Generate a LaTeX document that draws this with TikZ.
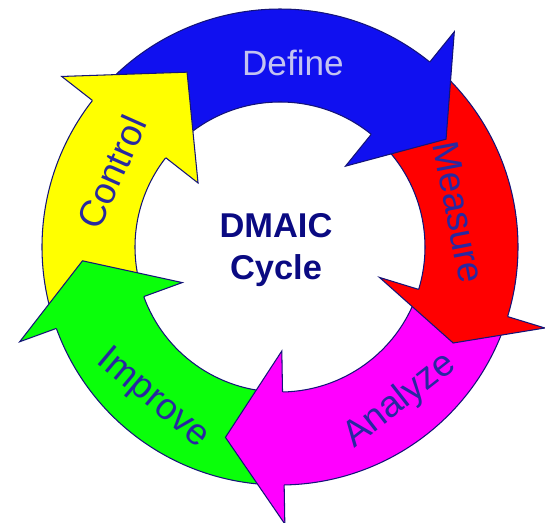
\documentclass[tikz,border=0pt]{standalone}
\usepackage{fontspec}
\setmainfont{Liberation Sans}

\definecolor{defineblue}{RGB}{16,16,240}
\definecolor{measurered}{RGB}{255,0,0}
\definecolor{analyzemag}{RGB}{255,0,255}
\definecolor{improvegreen}{RGB}{10,255,10}
\definecolor{controlyellow}{RGB}{255,255,0}
\definecolor{rimnavy}{RGB}{20,20,120}
\definecolor{labelnavy}{RGB}{40,40,160}
\definecolor{titlenavy}{RGB}{10,10,130}
\definecolor{lavender}{RGB}{195,195,240}

\begin{document}
\begin{tikzpicture}
        [
            x=0.02cm, y=0.02cm,
            rim/.style={draw=rimnavy, line width=0.6pt},
            steplabel/.style={font=\fontsize{21}{25}\selectfont, text=labelnavy},
            dmaictitle/.style={font=\fontsize{19.6}{24.4}\selectfont\bfseries, text=titlenavy, align=center}
        ]
        \useasboundingbox (0,0) rectangle (545,522);
        \coordinate (ctr) at (280,275);

        \begin{scope}[shift={(ctr)}]
            % bands of the five arrows (tail starts under the previous head)
            \foreach \col/\a/\b in {defineblue/142/51, measurered/51/-17, analyzemag/-17/-89, improvegreen/-89/-160, controlyellow/-160/-218}
            {
                \fill[\col] (\a-2:238) arc[start angle=\a-2, end angle=\b-1, radius=238] -- (\b-1:145) arc[start angle=\b-1, end angle=\a-2, radius=145] -- cycle;
                \draw[rim] (\a-2:238) arc[start angle=\a-2, end angle=\b, radius=238];
                \draw[rim] (\b:145) arc[start angle=\b, end angle=\a-2, radius=145];
            }
            % heads on top
            \foreach \col/\b/\t in {defineblue/51/33, measurered/-17/-29, analyzemag/-89/-106, improvegreen/-160/-176, controlyellow/-218/-242}
            {
                \fill[\col] (\b:277) -- (\t:198) -- (\b:104) -- cycle;
                \draw[rim] (\b:238) -- (\b:277) -- (\t:198) -- (\b:104) -- (\b:145);
            }

            \node[steplabel, text=lavender, font=\fontsize{20}{24}\selectfont] (define) at (86:185) {Define};
            \node[steplabel, rotate=-79] (measure) at (11:182) {Measure};
            \node[steplabel, rotate=38] (analyze) at (-52:195) {Analyze};
            \node[steplabel, rotate=-40] (improve) at (-130:198) {Improve};
            \node[steplabel, rotate=66] (control) at (156:184) {Control};
        \end{scope}

        \node[dmaictitle] (dmaic) at (276,272) {DMAIC\\Cycle};
    \end{tikzpicture}
\end{document}
